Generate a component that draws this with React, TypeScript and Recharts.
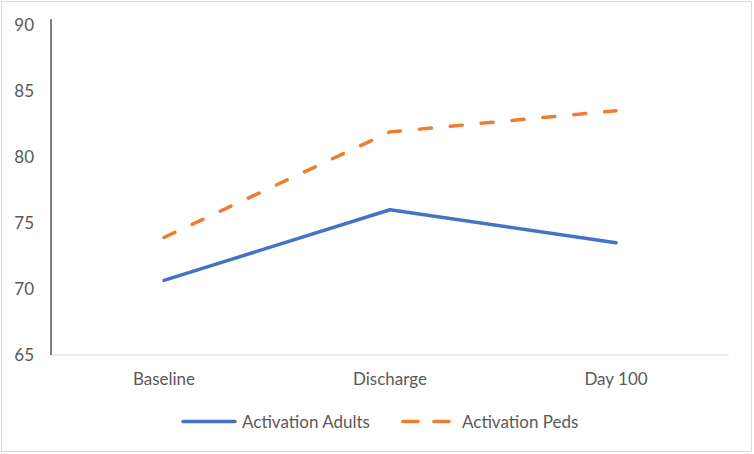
import React from "react";
import { LineChart, Line, XAxis, YAxis } from "recharts";

const categories = ["Baseline", "Discharge", "Day 100"];
const adults = [70.65, 76.0, 73.5];
const peds = [73.9, 81.9, 83.5];
const seriesNames = ["Activation Adults", "Activation Peds"];
const yTicks = [65, 70, 75, 80, 85, 90];

const BLUE = "#4472C4";
const ORANGE = "#ED7D31";
const TEXT = "#595959";
const FONT = "Lato, 'Open Sans', sans-serif";
const FS = 17;

const data = categories.map((c, i) => ({ name: c, adults: adults[i], peds: peds[i] }));

export default function App() {
  return (
    <div style={{ position: "absolute", left: 0, top: 0, width: 754, height: 454, background: "#fff", fontFamily: FONT }}>
      <div
        style={{
          position: "absolute",
          left: 1,
          top: 1,
          width: 751,
          height: 451,
          border: "1px solid #d9d9d9",
          boxSizing: "border-box",
        }}
      />
      <LineChart
        width={754}
        height={454}
        data={data}
        margin={{ top: 19, right: 25, bottom: 69, left: 0 }}
      >
        <XAxis
          dataKey="name"
          padding={{ left: 113, right: 113 }}
          axisLine={{ stroke: "#d9d9d9", strokeWidth: 1 }}
          tickLine={false}
          tickSize={0}
          tickMargin={18}
          height={30}
          interval={0}
          tick={{ fill: TEXT, fontSize: FS, fontFamily: FONT }}
        />
        <YAxis
          domain={[65, 90.45]}
          ticks={yTicks}
          interval={0}
          allowDataOverflow
          width={51}
          axisLine={{ stroke: "#000", strokeWidth: 1 }}
          tickLine={false}
          tickSize={0}
          tickMargin={17}
          tick={{ fill: TEXT, fontSize: FS, fontFamily: FONT }}
        />
        <Line
          type="linear"
          dataKey="adults"
          name={seriesNames[0]}
          stroke={BLUE}
          strokeWidth={3.5}
          strokeLinecap="round"
          strokeLinejoin="round"
          dot={false}
          activeDot={false}
          isAnimationActive={false}
        />
        <Line
          type="linear"
          dataKey="peds"
          name={seriesNames[1]}
          stroke={ORANGE}
          strokeWidth={3.5}
          strokeDasharray="12 19"
          strokeLinecap="round"
          strokeLinejoin="round"
          dot={false}
          activeDot={false}
          isAnimationActive={false}
        />
      </LineChart>
      <svg style={{ position: "absolute", left: 0, top: 405 }} width={754} height={34}>
        <line x1={183} y1={16.5} x2={235} y2={16.5} stroke={BLUE} strokeWidth={3.5} strokeLinecap="round" />
        <text x={242} y={22.5} fill={TEXT} fontSize={FS} fontFamily={FONT}>{seriesNames[0]}</text>
        <line x1={403} y1={16.5} x2={418} y2={16.5} stroke={ORANGE} strokeWidth={3.5} strokeLinecap="round" />
        <line x1={434} y1={16.5} x2={449} y2={16.5} stroke={ORANGE} strokeWidth={3.5} strokeLinecap="round" />
        <text x={462} y={22.5} fill={TEXT} fontSize={FS} fontFamily={FONT}>{seriesNames[1]}</text>
      </svg>
    </div>
  );
}
